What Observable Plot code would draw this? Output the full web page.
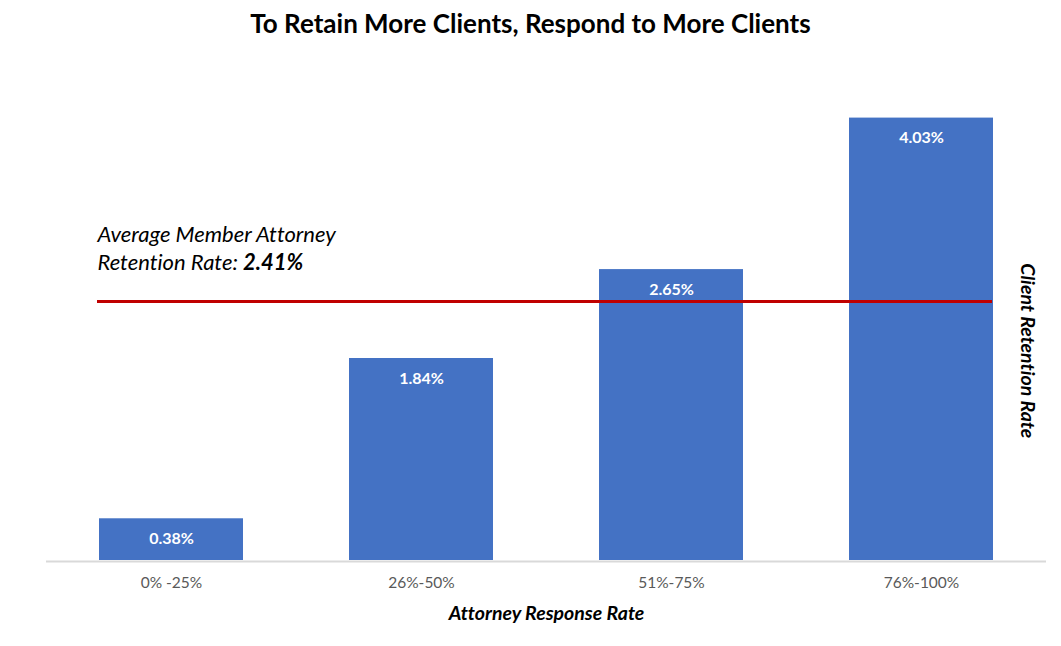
<!DOCTYPE html>
<html>
<head>
<meta charset="utf-8">
<script src="https://cdn.jsdelivr.net/npm/d3@7"></script>
<script src="https://cdn.jsdelivr.net/npm/@observablehq/plot@0.6"></script>
<style>
  html, body { margin: 0; padding: 0; background: #fff; }
  #chart svg { display: block; font-family: Lato, "Open Sans", sans-serif; font-variant-ligatures: none; }
</style>
</head>
<body>
<div id="chart"></div>
<script>
const categories = ["0% -25%", "26%-50%", "51%-75%", "76%-100%"];
const retention = [0.38, 1.84, 2.65, 4.03];
const averageLabelValue = "2.41%";
const averageLineLevel = 2.36;
const title = "To Retain More Clients, Respond to More Clients";
const xTitle = "Attorney Response Rate";
const yTitle = "Client Retention Rate";
const yTitleLevel = 1.91;

const data = categories.map((c, i) => ({category: c, value: retention[i]}));

const font = "Lato, 'Open Sans', sans-serif";

const chart = Plot.plot({
  width: 1061,
  height: 646,
  marginLeft: 46,
  marginRight: 15,
  marginTop: 66,
  marginBottom: 86,
  style: {fontFamily: font, background: "#fff"},
  x: {domain: categories, paddingInner: 0.424, paddingOuter: 0.212, label: null},
  y: {domain: [0, 4.5], axis: null},
  marks: [
    Plot.barY(data, {x: "category", y: "value", fill: "#4472C4"}),
    Plot.ruleY([0], {stroke: "#d9d9d9", strokeWidth: 2, dy: 1}),
    Plot.axisX({tickSize: 0, tickPadding: 16, fontSize: 15.5, color: "#595959", label: null}),
    Plot.text(data, {x: "category", y: "value", text: d => d.value.toFixed(2) + "%", dy: 20,
      fill: "#fff", fontWeight: "bold", fontSize: 16}),
    Plot.ruleY([averageLineLevel], {stroke: "#C00000", strokeWidth: 3, insetLeft: 51, insetRight: 54}),
    Plot.text(["Average Member Attorney"], {frameAnchor: "left", y: () => averageLineLevel, text: d => d,
      dx: 51, dy: -66, textAnchor: "start", lineAnchor: "middle", fontSize: 22, fontStyle: "italic", fill: "#000"}),
    Plot.text(["Retention Rate: "], {frameAnchor: "left", y: () => averageLineLevel, text: d => d,
      dx: 51, dy: -38, textAnchor: "start", lineAnchor: "middle", fontSize: 22, fontStyle: "italic", fill: "#000",
      className: "avg-line2"}),
    Plot.text([title], {frameAnchor: "top", text: d => d, dx: -16, dy: -42, lineAnchor: "middle",
      fontSize: 26, fontWeight: "bold", fill: "#000"}),
    Plot.text([xTitle], {frameAnchor: "bottom", text: d => d, dy: 53, lineAnchor: "middle",
      fontSize: 19.5, fontWeight: "bold", fontStyle: "italic", fill: "#000"}),
    Plot.text([yTitle], {frameAnchor: "right", y: () => yTitleLevel, text: d => d, dx: -19, rotate: 90,
      textAnchor: "middle", lineAnchor: "middle", fontSize: 19.5, fontWeight: "bold", fontStyle: "italic", fill: "#000"})
  ]
});

d3.select(chart).selectAll(".avg-line2 text").each(function() {
  const t = d3.select(this);
  t.text("Retention Rate: ");
  t.append("tspan").attr("font-weight", "bold").text(averageLabelValue);
});

document.getElementById("chart").appendChild(chart);
</script>
</body>
</html>
